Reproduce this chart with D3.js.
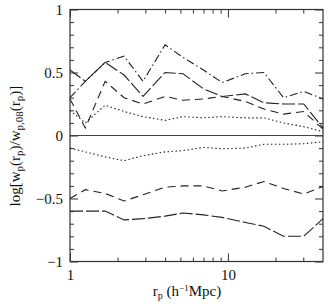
<!DOCTYPE html>
<html>
<head>
<meta charset="utf-8">
<script src="https://cdn.jsdelivr.net/npm/d3@7"></script>
<style>
  body { margin: 0; background: #fff; }
  svg text { font-family: "Liberation Serif", "Times New Roman", serif; fill: #111; }
</style>
</head>
<body>
<div id="chart"></div>
<script>
// separation bins in h^-1 Mpc
const rp = [1.0, 1.25, 1.67, 2.2, 2.9, 4.0, 5.2, 7.0, 9.2, 12.9, 16.9, 22.5, 30.2, 40];

// upper group of curves
const upperLongDash = [0.52, 0.43, 0.58, 0.48, 0.31, 0.50, 0.49, 0.37, 0.31, 0.33, 0.26, 0.25, 0.25, 0.06];
const upperDash     = [0.29, 0.06, 0.43, 0.30, 0.25, 0.31, 0.28, 0.29, 0.31, 0.27, 0.21, 0.17, 0.19, 0.05];
const upperDashDot  = [0.30, 0.43, 0.58, 0.63, 0.43, 0.72, 0.62, 0.52, 0.42, 0.49, 0.50, 0.30, 0.35, 0.29];
const upperDotted   = [0.20, 0.10, 0.24, 0.19, 0.15, 0.12, 0.15, 0.14, 0.15, 0.14, 0.14, 0.10, 0.07, 0.03];

// lower group of curves
const lowerDotted   = [-0.10, -0.13, -0.17, -0.20, -0.16, -0.13, -0.12, -0.095, -0.105, -0.10, -0.07, -0.07, -0.065, -0.05];
const lowerDash     = [-0.50, -0.43, -0.46, -0.52, -0.47, -0.41, -0.40, -0.40, -0.44, -0.41, -0.365, -0.42, -0.465, -0.405];
const lowerLongDash = [-0.60, -0.60, -0.60, -0.67, -0.66, -0.64, -0.615, -0.63, -0.65, -0.69, -0.72, -0.80, -0.80, -0.66];

const xMajor = [1, 10];
const xMinor = [2, 3, 4, 5, 6, 7, 8, 9, 20, 30];
const yMajor = [-1, -0.5, 0, 0.5, 1];
const yMinor = d3.range(-9, 10).map(d => d / 10).filter(d => Math.abs(d) !== 0.5 && d !== 0);

const width = 331,
    height = 305,
    margin = ({ top: 9.5, right: 8, bottom: 43.5, left: 70 });

const svg = d3.select("#chart")
    .append("svg")
    .attr("width", width)
    .attr("height", height);

const x = d3.scaleLog()
    .domain([1, 40])
    .range([margin.left, width - margin.right]);

const y = d3.scaleLinear()
    .domain([-1, 1])
    .range([height - margin.bottom, margin.top]);

const major = 8, minor = 4;
const fmt = d => d3.format("")(d).replace("-", "\u2212");

// bottom axis with labels
svg.append("g")
    .attr("transform", `translate(0,${height - margin.bottom})`)
    .call(d3.axisBottom(x).tickValues(xMajor).tickFormat(d3.format("d"))
        .tickSize(-major).tickSizeOuter(0).tickPadding(8));
svg.append("g")
    .attr("transform", `translate(0,${height - margin.bottom})`)
    .call(d3.axisBottom(x).tickValues(xMinor).tickFormat("").tickSize(-minor).tickSizeOuter(0));

// top axis, ticks only
svg.append("g")
    .attr("transform", `translate(0,${margin.top})`)
    .call(d3.axisTop(x).tickValues(xMajor).tickFormat("").tickSize(-major).tickSizeOuter(0));
svg.append("g")
    .attr("transform", `translate(0,${margin.top})`)
    .call(d3.axisTop(x).tickValues(xMinor).tickFormat("").tickSize(-minor).tickSizeOuter(0));

// left axis with labels
svg.append("g")
    .attr("transform", `translate(${margin.left},0)`)
    .call(d3.axisLeft(y).tickValues(yMajor).tickFormat(fmt)
        .tickSize(-major).tickSizeOuter(0).tickPadding(7));
svg.append("g")
    .attr("transform", `translate(${margin.left},0)`)
    .call(d3.axisLeft(y).tickValues(yMinor).tickFormat("").tickSize(-minor).tickSizeOuter(0));

// right axis, ticks only
svg.append("g")
    .attr("transform", `translate(${width - margin.right},0)`)
    .call(d3.axisRight(y).tickValues(yMajor).tickFormat("").tickSize(-major).tickSizeOuter(0));
svg.append("g")
    .attr("transform", `translate(${width - margin.right},0)`)
    .call(d3.axisRight(y).tickValues(yMinor).tickFormat("").tickSize(-minor).tickSizeOuter(0));

svg.selectAll(".domain").remove();
svg.selectAll(".tick line").attr("stroke", "#333");
svg.selectAll(".tick text").attr("font-size", 15).attr("fill", "#111");

// frame
svg.append("rect")
    .attr("x", margin.left)
    .attr("y", margin.top)
    .attr("width", width - margin.left - margin.right)
    .attr("height", height - margin.top - margin.bottom)
    .attr("fill", "none")
    .attr("stroke", "#333")
    .attr("stroke-width", 1.2);

// zero line
svg.append("line")
    .attr("x1", margin.left).attr("x2", width - margin.right)
    .attr("y1", y(0)).attr("y2", y(0))
    .attr("stroke", "#444");

const line = d3.line()
    .x((d, i) => x(rp[i]))
    .y(d => y(d));

const curves = [
    { values: upperLongDash, dash: "13,3" },
    { values: upperDash, dash: "8,5" },
    { values: upperDashDot, dash: "8,3,1.5,3" },
    { values: upperDotted, dash: "1.5,2.5" },
    { values: lowerDotted, dash: "1.5,2.5" },
    { values: lowerDash, dash: "8,5" },
    { values: lowerLongDash, dash: "13,3" }
];

svg.selectAll("path.curve")
    .data(curves)
    .join("path")
    .attr("class", "curve")
    .attr("d", d => line(d.values))
    .attr("fill", "none")
    .attr("stroke", "#222")
    .attr("stroke-width", 1.1)
    .attr("stroke-dasharray", d => d.dash);

// axis titles
const xt = svg.append("text")
    .attr("x", 187)
    .attr("y", 296)
    .attr("text-anchor", "middle")
    .attr("font-size", 15);
xt.append("tspan").text("r");
xt.append("tspan").attr("font-size", 10).attr("dy", 3).text("p");
xt.append("tspan").attr("dy", -3).text("  (h");
xt.append("tspan").attr("font-size", 9).attr("dy", -5).text("\u22121");
xt.append("tspan").attr("dy", 5).text("Mpc)");

const yt = svg.append("text")
    .attr("transform", "translate(20,146) rotate(-90)")
    .attr("text-anchor", "middle")
    .attr("font-size", 15);
yt.append("tspan").text("log[w");
yt.append("tspan").attr("font-size", 11).attr("dy", 3).text("p");
yt.append("tspan").attr("dy", -3).text("(r");
yt.append("tspan").attr("font-size", 11).attr("dy", 3).text("p");
yt.append("tspan").attr("dy", -3).text(")/w");
yt.append("tspan").attr("font-size", 11).attr("dy", 3).text("p,08");
yt.append("tspan").attr("dy", -3).text("(r");
yt.append("tspan").attr("font-size", 11).attr("dy", 3).text("p");
yt.append("tspan").attr("dy", -3).text(")]");
</script>
</body>
</html>
